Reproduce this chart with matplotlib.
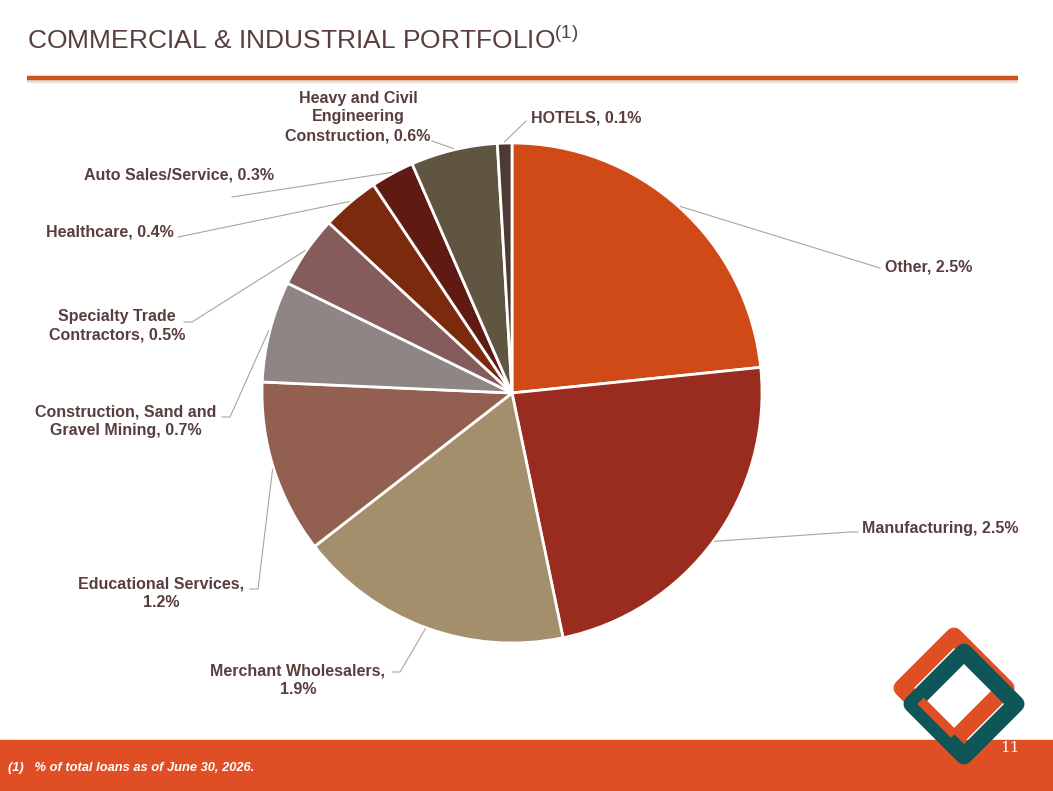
import numpy as np
import matplotlib
matplotlib.use("Agg")
import matplotlib.pyplot as plt
from matplotlib.patches import Rectangle, Polygon

W, H = 1053, 791

# data
categories = ["Other", "Manufacturing", "Merchant Wholesalers", "Educational Services",
              "Construction, Sand and Gravel Mining", "Specialty Trade Contractors",
              "Healthcare", "Auto Sales/Service", "Heavy and Civil Engineering Construction",
              "HOTELS"]
values = [2.5, 2.5, 1.9, 1.2, 0.7, 0.5, 0.4, 0.3, 0.6, 0.1]
label_texts = ["Other, 2.5%", "Manufacturing, 2.5%", "Merchant Wholesalers,\n1.9%",
               "Educational Services,\n1.2%", "Construction, Sand and\nGravel Mining, 0.7%",
               "Specialty Trade\nContractors, 0.5%", "Healthcare, 0.4%",
               "Auto Sales/Service, 0.3%", "Heavy and Civil\nEngineering\nConstruction, 0.6%",
               "HOTELS, 0.1%"]
colors = ["#D04A18", "#9A2B1F", "#A38F6C", "#925F50", "#8F8584",
          "#855C5C", "#7B2A0E", "#5F1A14", "#5F5540", "#4D3A34"]

TXT = "#5A3E3E"
ORANGE = "#E04E25"
TEAL = "#0E5658"


def py(y):
    return H - y


# label layout: (x, y, ha, elbow points in pixel coords)
layout = {
    "Other": (885, 267, "left", [(880, 268)]),
    "Manufacturing": (862, 529, "left", [(858, 532), (850, 532)]),
    "Merchant Wholesalers": (298, 680, "center", [(392, 672), (400, 672)]),
    "Educational Services": (161, 593, "center", [(250, 589), (258, 589)]),
    "Construction, Sand and Gravel Mining": (126, 421, "center", [(222, 417), (230, 417)]),
    "Specialty Trade Contractors": (117, 326, "center", [(184, 322), (192, 322)]),
    "Healthcare": (110, 232, "center", [(178, 237)]),
    "Auto Sales/Service": (179, 175, "center", [(232, 197)]),
    "Heavy and Civil Engineering Construction": (358, 117, "center", [(432, 141)]),
    "HOTELS": (531, 118, "left", [(526, 121)]),
}

fig = plt.figure(figsize=(W / 100, H / 100), dpi=100)
ax = fig.add_axes([0, 0, 1, 1])

cx, cy, R = 512, 393, 250
wedges, _ = ax.pie(values, colors=colors, startangle=90, counterclock=False,
                   center=(cx, py(cy)), radius=R,
                   wedgeprops=dict(edgecolor="white", linewidth=2))
ax.set_xlim(0, W)
ax.set_ylim(0, H)
ax.set_aspect("auto")
ax.axis("off")

for name, wedge, txt in zip(categories, wedges, label_texts):
    tx, ty, ha, elbow = layout[name]
    mid = np.deg2rad((wedge.theta1 + wedge.theta2) / 2)
    ex, ey = cx + R * 1.005 * np.cos(mid), py(cy) + R * 1.005 * np.sin(mid)
    pts = [(x, py(y)) for x, y in elbow] + [(ex, ey)]
    xs, ys = zip(*pts)
    ax.plot(xs, ys, color="#A6A6A6", lw=0.8, zorder=1)
    ax.text(tx, py(ty), txt, ha=ha, va="center", color=TXT, fontsize=11.5,
            fontweight="bold", family="Liberation Sans", linespacing=1.33)

# title and rule
ax.text(27, py(40), r"COMMERCIAL & INDUSTRIAL PORTFOLIO$^{\mathregular{(1)}}$",
        ha="left", va="center", color=TXT, fontsize=19, family="Liberation Sans")
ax.plot([27, 1018], [py(81), py(81)], color="#E8E0DC", lw=3, solid_capstyle="butt")
ax.plot([27, 1018], [py(78), py(78)], color="#D2501E", lw=3.2, solid_capstyle="butt")

# footer band
ax.add_patch(Rectangle((0, 0), W, H - 740, color=ORANGE, zorder=3))
ax.text(8, py(768), "(1)   % of total loans as of June 30, 2026.", ha="left", va="center",
        color="white", fontsize=9.3, fontweight="bold", style="italic",
        family="Liberation Sans", zorder=6)
ax.text(1010, py(748), "11", ha="center", va="center", color="white", fontsize=11,
        family="DejaVu Serif", zorder=6)


# logo: two interlocked rounded diamonds
def diamond(x0, y0, r):
    return [(x0, py(y0 - r)), (x0 + r, py(y0)), (x0, py(y0 + r)), (x0 - r, py(y0))]


lw = 12.2
ax.add_patch(Polygon(diamond(954, 688, 52), closed=True, fill=False, edgecolor=ORANGE,
                     lw=lw, joinstyle="round", zorder=4))
ax.add_patch(Polygon(diamond(964, 704, 52), closed=True, fill=False, edgecolor=TEAL,
                     lw=lw, joinstyle="round", zorder=4.5))
# orange inner strip over the teal on the lower left
ax.plot([920.4, 954.2], [py(700.8), py(734.6)], color=ORANGE, lw=6.5,
        solid_capstyle="butt", zorder=5)

fig.savefig("out.png", dpi=100)
